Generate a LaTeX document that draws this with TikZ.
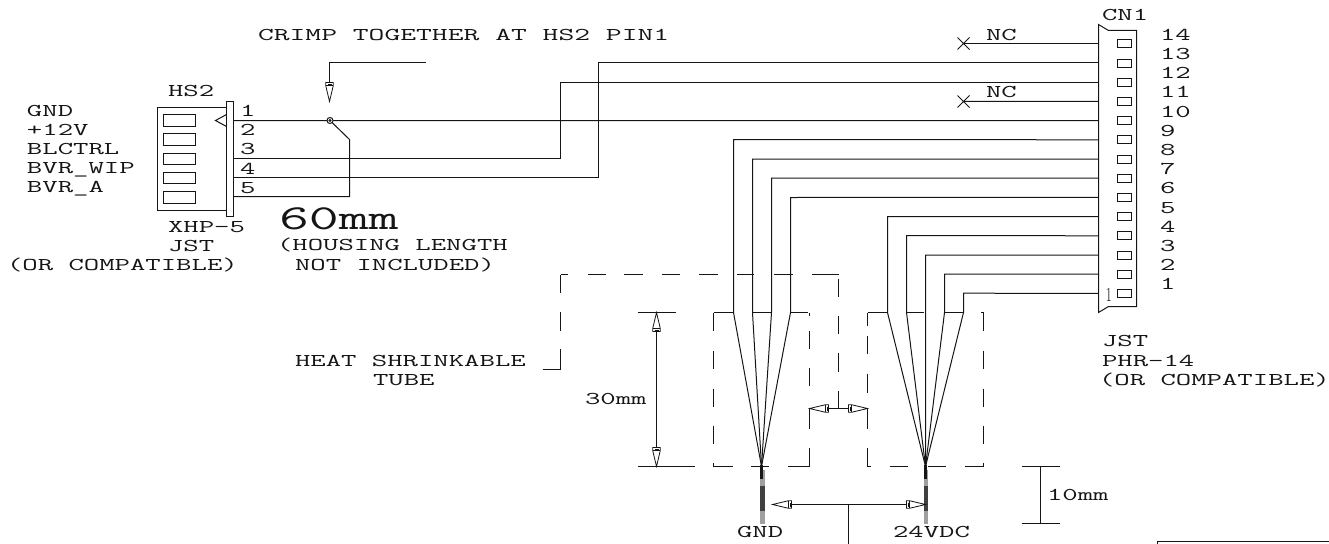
\documentclass[tikz,border=0pt]{standalone}
\usepackage{fontspec}
\newfontfamily\cad[FakeStretch=1.66]{Latin Modern Mono}
\newfontfamily\plainone{Latin Modern Roman}
\definecolor{ink}{HTML}{151515}
\tikzset{
  wire/.style={draw=ink,line width=1pt},
  outline/.style={draw=ink,line width=1pt,line join=miter},
  pinbox/.style={draw=ink,line width=0.9pt,fill=white},
  txt/.style={anchor=base west,inner sep=0pt,text=ink,xshift=-0.7pt,yshift=0.8pt,font=\cad\fontsize{18}{20}\selectfont},
  bigtxt/.style={txt,font=\cad\fontsize{35}{37}\selectfont}
}
% arrow head: tip at (#1,#2), pointing in direction #3 (degrees, canvas orientation)
\newcommand\dimhead[3]{%
  \begin{scope}[shift={(#1,#2)},rotate=#3]
    \draw[draw=ink,line width=0.8pt,fill=white,line join=miter] (0,0) -- (-16,-3.8) -- (-19,-3.8) -- (-19,3.8) -- (-16,3.8) -- cycle;
    \draw[draw=ink,line width=0.8pt] (-16,-3.8) -- (-16,3.8) (-17.5,-2) -- (-17.5,2);
  \end{scope}}
\newcommand\dashsegs[1]{\foreach \a/\b/\c/\d in {#1}{\draw[wire] (\a,\b) -- (\c,\d);}}
\begin{document}
\begin{tikzpicture}[x=1pt,y=-1pt]
\useasboundingbox (-0.5,-0.5) rectangle (1328.5,542.5);
% named pin positions
\foreach \i in {1,...,14}{
  \pgfmathsetmacro\py{43.3+19.2*(14-\i)}
  \coordinate (cn\i) at (1098,\py);
  \draw[pinbox] (1117,\py-4) rectangle (1131,\py+4);
  \node[txt] (lab\i) at (1160,\py-2.8) {\i};
}
\foreach \i/\py in {1/120,3/158,4/177,5/196}{\coordinate (hs\i) at (233,\py);}
% CN1 housing
\draw[outline] (1098,24) -- (1108,30) -- (1136,30) -- (1136,306) -- (1108,306) -- (1098,312) -- cycle;
\node[txt] (cn) at (1102,21) {CN1};
\node[anchor=base west,inner sep=0pt,text=ink,font=\plainone\fontsize{20}{21}\selectfont] (one) at (1105,300.5) {\scalebox{0.7}[1]{1}};
% HS2 housing
\draw[outline] (226,107) -- (157,107) -- (157,210) -- (226,210);
\draw[outline,fill=white] (226,101) rectangle (233,216);
\foreach \a/\b in {114/126,133/145,153/164,172/183,191/203}{\draw[pinbox] (163,\a) rectangle (195,\b);}
\draw[outline] (226,114) -- (215,120) -- (226,126);
% wires
\draw[wire] (hs1) -- (cn10);
\draw[wire] (hs3) -- (560,158) -- (560,81.7) -- (cn12);
\draw[wire] (hs4) -- (598,177) -- (598,62.5) -- (cn13);
\draw[wire] (hs5) -- (349,196) -- (349,139) -- (329.5,120);
\draw[ink,line width=1pt,fill=white] (329.5,120) circle (3);
\fill[ink] (329.5,120) circle (1.6);
% NC stubs
\draw[wire] (963,43.3) -- (cn14);
\draw[wire] (963,101) -- (cn11);
\draw[wire] (957,37) -- (969,49) (957,49) -- (969,37);
\draw[wire] (957,95) -- (969,107) (957,107) -- (969,95);
% fans
\coordinate (tipL) at (761,466);
\coordinate (tipR) at (925,466);
\draw[wire] (cn9) -- (733,139) -- (733,312) -- (tipL);
\draw[wire] (cn8) -- (752,158.5) -- (752,312) -- (tipL);
\draw[wire] (cn7) -- (771,177.5) -- (771,312) -- (tipL);
\draw[wire] (cn6) -- (790,197) -- (790,312) -- (tipL);
\draw[wire] (cn5) -- (887,216) -- (887,312) -- (tipR);
\draw[wire] (cn4) -- (906,235) -- (906,312) -- (tipR);
\draw[wire] (cn3) -- (925,254.5) -- (tipR);
\draw[wire] (cn2) -- (944,273.5) -- (944,312) -- (tipR);
\draw[wire] (cn1) -- (963,292.7) -- (963,312) -- (tipR);
% sleeves
\fill[gray!75] (759,469) rectangle (764,523);
\fill[black!75] (759,485) rectangle (764,510);
\fill[gray!75] (923,469) rectangle (927.5,523);
\fill[black!75] (923,485) rectangle (927.5,510);
\fill[ink] (759.5,464) rectangle (762.5,478);
\fill[ink] (923.5,464) rectangle (926.5,478);
% dashed tube outline, large box
\dashsegs{542/369/560/369,560/369/560/348,560/330/560/311,560/292/560/274,560/274/567/274,587/274/605/274,623/274/642/274,661/274/679/274,698/274/717/274,736/274/753/274,773/274/792/274,811/274/838/274,838/278/838/296,838/315/838/333,838/352/838/371,838/390/838/408}
% left fan box
\dashsegs{713/312/733/312,752/312/771/312,790/312/807/312,809/312/809/315,809/330/809/348,809/367/809/385,809/408/809/428,809/447/809/466,713/312/713/330,713/350/713/368,713/388/713/406,713/425/713/443,713/462/713/466,713/466/732/466,750/466/768/466,787/466/809/466}
% right fan box
\dashsegs{867/312/886/312,905/312/923/312,943/312/962/312,980/312/983/312,867/312/867/325,867/335/867/353,867/373/867/392,867/408/867/428,867/447/867/466,867/466/870/466,889/466/907/466,927/466/945/466,964/466/983/466,983/312/983/330,983/350/983/368,983/388/983/406,983/425/983/443,983/462/983/466}
% leader
\draw[wire] (425,62) -- (329,62) -- (329,82);
\dimhead{329}{101}{-90}
% 30mm dimension
\draw[wire] (637,312) -- (675,312);
\draw[wire] (637,466) -- (694,466);
\draw[wire] (656,312) -- (656,466);
\dimhead{656}{312}{90}
\dimhead{656}{466}{-90}
% gap dimension
\draw[wire] (828,408) -- (848,408);
\dimhead{809}{408}{180}
\dimhead{867}{408}{0}
% output dimension
\draw[wire] (848,504) -- (848,543);
\draw[wire] (791,504) -- (906,504);
\dimhead{772}{504}{180}
\dimhead{925}{504}{0}
% 10mm dimension
\draw[wire] (1021,466) -- (1059,466) (1021,523) -- (1059,523) (1040,466) -- (1040,523);
% title block fragment
\draw[wire] (1157,543) -- (1157,541) -- (1329,541);
% texts
\node[txt] (t1) at (258,41) {\scalebox{1.028}[1]{CRIMP TOGETHER AT HS2 PIN1}};
\node[txt] (t2) at (168,97) {HS2};
\node[txt] (t3) at (27,117) {GND};
\node[txt] (t4) at (27,136) {+12V};
\node[txt] (t5) at (27,155) {BLCTRL};
\node[txt] (t6) at (27,174) {BVR\_WIP};
\node[txt] (t7) at (27,193) {BVR\_A};
\node[txt] (p1) at (240,117) {1};
\node[txt] (p2) at (240,136) {2};
\node[txt] (p3) at (240,155) {3};
\node[txt] (p4) at (240,175) {4};
\node[txt] (p5) at (240,194) {5};
\node[txt] (t8) at (168,233) {XHP-5};
\node[txt] (t9) at (168,252) {JST};
\node[txt] (t10) at (7,271) {(OR COMPATIBLE)};
\node[bigtxt] (t11) at (279,230) {60mm};
\node[txt] (t12) at (277,251) {(HOUSING LENGTH};
\node[txt] (t13) at (295,271) {NOT INCLUDED)};
\node[txt] (t14) at (986,40.7) {NC};
\node[txt] (t15) at (986,98) {NC};
\node[txt] (t16) at (1102,347) {JST};
\node[txt] (t17) at (1102,367) {PHR-14};
\node[txt] (t18) at (1099,386) {(OR COMPATIBLE)};
\node[txt] (t19) at (295,367) {HEAT SHRINKABLE};
\node[txt] (t20) at (373,386) {TUBE};
\node[txt] (t21) at (585,405) {30mm};
\node[txt] (t22) at (1047,501) {10mm};
\node[txt] (t23) at (737,538) {GND};
\node[txt] (t24) at (893,538) {24VDC};
\end{tikzpicture}
\end{document}
